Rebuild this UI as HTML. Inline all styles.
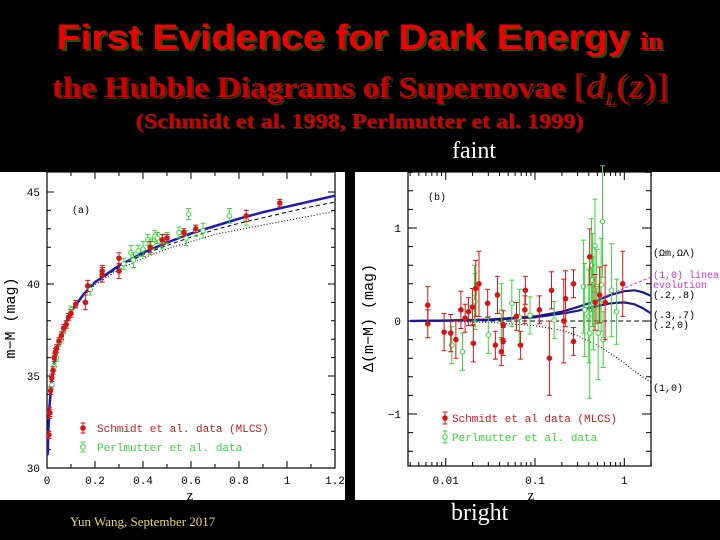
<!DOCTYPE html>
<html><head><meta charset="utf-8">
<style>
html,body{margin:0;padding:0;background:#000;}
body{width:720px;height:540px;position:relative;overflow:hidden;}
.t{position:absolute;white-space:nowrap;}
.c{position:absolute;left:0;width:720px;text-align:center;white-space:nowrap;}
.c span.w{display:inline-block;}
</style></head>
<body>
<div class="c" style="top:18px;"><span class="w" style="transform:scaleX(1.12);font:bold 35px 'Liberation Sans',sans-serif;color:#e00;text-shadow:2px 2px 0 #264a12;">First Evidence for Dark Energy <span style="font:bold 24px 'Liberation Serif',serif;">in</span></span></div>
<div class="c" style="top:68px;"><span class="w" style="transform:scaleX(1.1);font:bold 30px 'Liberation Serif',serif;color:#c00;text-shadow:2px 2px 0 #3a2a10;">the Hubble Diagrams of Supernovae <span style="font-weight:normal;font-size:34px;">[<i>d<sub style="font-size:19px">L</sub></i>(<i>z</i>)]</span></span></div>
<div class="c" style="top:109px;"><span class="w" style="transform:scaleX(1.15);font:bold 21px 'Liberation Serif',serif;color:#c00;text-shadow:1px 1px 0 #3a2a10;">(Schmidt et al. 1998, Perlmutter et al. 1999)</span></div>
<div class="t" style="left:452px;top:138px;font:24px 'Liberation Serif',serif;color:#fff;">faint</div>
<div class="t" style="left:451px;top:500px;font:24px 'Liberation Serif',serif;color:#fff;">bright</div>
<div class="t" style="left:70px;top:514px;font:13px 'Liberation Serif',serif;color:#e8d870;">Yun Wang, September 2017</div>

<svg id="s" width="720" height="540" style="position:absolute;left:0;top:0">
<rect x="0" y="172" width="345" height="328" fill="#fff"/>
<rect x="355" y="172" width="365" height="328" fill="#fff"/>
</svg>

<script>
// ---- Panel (a) data ----
const curveZ = [0.003,0.005,0.01,0.02,0.03,0.05,0.075,0.1,0.15,0.2,0.3,0.4,0.5,0.6,0.7,0.8,0.9,1.0,1.1,1.2];
const curveLambda = [30.7,31.8,33.3,34.8,35.7,36.9,37.8,38.5,39.4,40.1,41.0,41.7,42.25,42.75,43.15,43.55,43.9,44.2,44.5,44.8];
const curveOpen = [30.7,31.8,33.3,34.8,35.7,36.9,37.8,38.5,39.4,40.05,40.9,41.6,42.1,42.55,42.95,43.3,43.6,43.9,44.2,44.45];
const curveFlat = [30.7,31.8,33.3,34.8,35.7,36.9,37.8,38.45,39.3,39.95,40.8,41.4,41.9,42.3,42.7,42.95,43.2,43.45,43.7,43.95];
const redZa = [0.008,0.01,0.012,0.015,0.02,0.025,0.03,0.035,0.04,0.05,0.06,0.07,0.08,0.09,0.1,0.12,0.16,0.17,0.23,0.23,0.3,0.3,0.43,0.48,0.5,0.57,0.62,0.83,0.97];
const redMu = [31.8,33.0,33.0,34.2,34.9,35.3,36.0,36.3,36.5,36.9,37.2,37.6,37.8,38.2,38.4,38.9,39.0,39.9,40.5,40.7,40.7,41.4,42.0,42.4,42.5,42.8,43.0,43.7,44.4];
const redErrA = [0.2,0.3,0.2,0.2,0.2,0.2,0.2,0.2,0.2,0.2,0.2,0.2,0.2,0.2,0.2,0.2,0.4,0.3,0.4,0.3,0.4,0.3,0.3,0.3,0.2,0.2,0.2,0.3,0.2];
const greenZa = [0.02,0.03,0.04,0.05,0.06,0.07,0.08,0.1,0.18,0.32,0.35,0.36,0.38,0.4,0.42,0.43,0.44,0.45,0.46,0.48,0.5,0.55,0.58,0.59,0.62,0.65,0.76,0.83];
const greenMu = [34.5,35.5,36.0,36.8,37.0,37.5,37.8,38.6,39.7,41.1,41.7,41.3,41.8,41.9,42.4,42.0,42.2,42.6,42.5,42.3,42.5,42.8,42.5,43.8,42.9,42.9,43.7,43.5];
const greenErrA = [0.2,0.2,0.2,0.2,0.2,0.2,0.2,0.2,0.3,0.3,0.4,0.4,0.3,0.4,0.3,0.4,0.3,0.3,0.3,0.4,0.3,0.3,0.4,0.3,0.3,0.4,0.4,0.3];
const xTicksA = [0,0.2,0.4,0.6,0.8,1,1.2];
const yTicksA = [30,35,40,45];

// ---- Panel (b) data ----
const curveZb = [0.004,0.01,0.03,0.1,0.2,0.3,0.5,0.7,1,1.3,1.6,2];
const dm28 = [0,0.005,0.015,0.05,0.1,0.15,0.22,0.28,0.32,0.33,0.31,0.27];
const dm37 = [0,0.004,0.012,0.04,0.08,0.11,0.16,0.19,0.2,0.18,0.14,0.08];
const dm10 = [0,-0.005,-0.015,-0.05,-0.1,-0.16,-0.26,-0.35,-0.45,-0.54,-0.6,-0.66];
const dm20 = [0,0,0,0,0,0,0,0,0,0,0,0];
const redZb = [0.0063,0.0063,0.0096,0.0114,0.013,0.0148,0.0165,0.018,0.0199,0.0204,0.0217,0.0236,0.0295,0.036,0.038,0.042,0.044,0.044,0.062,0.069,0.077,0.078,0.112,0.145,0.153,0.21,0.22,0.27,0.27,0.41,0.47,0.53,0.61,0.96];
const redDm = [0.17,-0.03,-0.12,-0.13,-0.2,0.12,0.03,0.1,0.15,-0.24,0.35,0.4,0.19,-0.26,0.28,-0.33,-0.22,-0.04,0.05,-0.26,0.12,0.33,0.12,-0.4,0.33,0,0.24,0.4,-0.22,0.69,0.2,0.28,0.2,0.4];
const redErrB = [0.2,0.15,0.2,0.2,0.2,0.2,0.15,0.15,0.2,0.2,0.3,0.35,0.15,0.15,0.2,0.15,0.15,0.15,0.15,0.15,0.15,0.15,0.15,0.4,0.2,0.45,0.3,0.15,0.15,0.3,0.3,0.3,0.4,0.35];
const greenZb = [0.0117,0.0154,0.021,0.0213,0.03,0.042,0.055,0.067,0.088,0.164,0.35,0.36,0.40,0.41,0.43,0.44,0.45,0.47,0.49,0.51,0.55,0.57,0.58,0.72,0.82];
const greenDm = [-0.26,-0.33,0.3,0.21,-0.15,0.1,0.19,0.04,0.06,0.01,0.37,0.12,0.05,-0.13,0.6,0.44,0.19,0.81,0.37,-0.13,0.39,1.07,-0.2,0.33,0.1];
const greenErrB = [0.2,0.2,0.3,0.3,0.2,0.3,0.25,0.3,0.2,0.2,0.5,0.5,0.5,0.7,0.5,0.5,0.5,0.5,0.4,0.5,0.5,0.6,0.3,0.5,0.35];
const yTicksB = [-1,0,1];
const xTicksB = [0.01,0.1,1];

const svg = document.getElementById('s');
const NS = 'http://www.w3.org/2000/svg';
function el(tag, attrs, parent){
  const e = document.createElementNS(NS, tag);
  for (const k in attrs) e.setAttribute(k, attrs[k]);
  (parent||svg).appendChild(e);
  return e;
}
const xA = z => 47 + z*240;
const yA = m => 468 - (m-30)*18.4;
const xB = z => 445.7 + (Math.log10(z)+2)*89.3;
const yB = d => 321 - d*93;

function frame(x0,y0,x1,y1,name){
  const r = el('rect',{x:x0,y:y0,width:x1-x0,height:y1-y0,fill:'none',stroke:'#000','stroke-width':1.2});
  
  
}
function txt(x,y,s,opts,name){
  const t = el('text',Object.assign({x:x,y:y,'font-family':"'Liberation Mono',monospace",'font-size':11,fill:'#000'},opts||{}));
  t.textContent = s;
  
  
  return t;
}
function line(xs, ys, fx, fy, style, name){
  const d = xs.map((v,i)=>(i?'L':'M')+fx(v).toFixed(1)+','+fy(ys[i]).toFixed(1)).join('');
  const p = el('path',Object.assign({d:d,fill:'none'},style));
  
  
}
function marker(g,x,y,y1,y2,color,filled,name){
  el('path',{d:`M${x},${y1}L${x},${y2}M${x-2.5},${y1}L${x+2.5},${y1}M${x-2.5},${y2}L${x+2.5},${y2}`,stroke:color,'stroke-width':1,fill:'none'},g);
  const c = el('circle',{cx:x,cy:y,r:2.3,fill:filled?color:'#fff',stroke:color,'stroke-width':1},g);
  
  
}
function points(xs, ys, es, fx, fy, color, filled, name){
  const g = el('g',{});
  
  
  xs.forEach((v,i)=>{
    marker(g,fx(v),fy(ys[i]),fy(ys[i]+es[i]),fy(ys[i]-es[i]),color,filled,name+'-point');
  });
}

// ---- Panel (a) ----
const clipA = el('clipPath',{id:'ca'}); el('rect',{x:47,y:172,width:288,height:296},clipA);
frame(47,172,335,468,'panel-a-frame');
for (let z=0; z<=1.2001; z+=0.1){ const x=xA(z), L=(Math.round(z*10)%2===0)?7:4;
  el('path',{d:`M${x},468L${x},${468-L}M${x},172L${x},${172+L}`,stroke:'#000'}); }
for (let m=30; m<=45.5; m+=1){ const y=yA(m), L=(m%5===0)?7:4;
  el('path',{d:`M47,${y}L${47+L},${y}M335,${y}L${335-L},${y}`,stroke:'#000'}); }
xTicksA.forEach(v=>txt(xA(v),484,String(v),{'text-anchor':'middle'},'x-tick-label-a'));
yTicksA.forEach(v=>txt(40,yA(v)+4,String(v),{'text-anchor':'end'},'y-tick-label-a'));
txt(190,500,'z',{'text-anchor':'middle','font-size':15,'font-family':"'Liberation Serif',serif"},'x-axis-title-a');
txt(0,0,'m−M (mag)',{'text-anchor':'middle','font-size':15,transform:'translate(15,318) rotate(-90)'},'y-axis-title-a');
txt(72,213,'(a)',{'font-size':10},'panel-a-label');
const gA = el('g',{'clip-path':'url(#ca)'});
line(curveZ,curveFlat,xA,yA,{stroke:'#000','stroke-width':1,'stroke-dasharray':'1,2'},'curve-a-matter-only');
line(curveZ,curveOpen,xA,yA,{stroke:'#000','stroke-width':1,'stroke-dasharray':'4,3'},'curve-a-open');
line(curveZ,curveLambda,xA,yA,{stroke:'#1a1ab0','stroke-width':2.5},'curve-a-lambda');
points(greenZa,greenMu,greenErrA,xA,yA,'#3cd43c',false,'perlmutter-series-a');
points(redZa,redMu,redErrA,xA,yA,'#d01818',true,'schmidt-series-a');
const lgA = el('g',{});


marker(lgA,83,428,423,433,'#d01818',true,'legend-marker-schmidt-a');
marker(lgA,83,447,442,452,'#3cd43c',false,'legend-marker-perlmutter-a');
txt(97,432,'Schmidt et al. data (MLCS)',{fill:'#c02020','font-size':11},'legend-schmidt-a');
txt(97,451,'Perlmutter et al. data',{fill:'#3cd43c','font-size':11},'legend-perlmutter-a');

// ---- Panel (b) ----
frame(408,172,651,466,'panel-b-frame');
for (let e=-3; e<=0; e++){ for (let k=1;k<10;k++){ const z=k*Math.pow(10,e); if(z<0.0038||z>2) continue;
  const x=xB(z), L=(k===1)?8:4;
  el('path',{d:`M${x},466L${x},${466-L}M${x},172L${x},${172+L}`,stroke:'#000'}); } }
for (let i=-7;i<=8;i++){ const d=i*0.2, y=yB(d); if(y<172||y>466) continue; const L=(i%5===0)?9:5;
  el('path',{d:`M408,${y}L${408+L},${y}M651,${y}L${651-L},${y}`,stroke:'#000'}); }
xTicksB.forEach(v=>txt(xB(v),484,String(v),{'text-anchor':'middle'},'x-tick-label-b'));
yTicksB.forEach(v=>txt(401,yB(v)+4,v<0?'−'+Math.abs(v):String(v),{'text-anchor':'end'},'y-tick-label-b'));
txt(531,500,'z',{'text-anchor':'middle','font-size':15,'font-family':"'Liberation Serif',serif"},'x-axis-title-b');
txt(0,0,'Δ(m−M) (mag)',{'text-anchor':'middle','font-size':15,transform:'translate(373,318) rotate(-90)'},'y-axis-title-b');
txt(428,200,'(b)',{'font-size':10},'panel-b-label');
line(curveZb,dm20,xB,yB,{stroke:'#000','stroke-width':1,'stroke-dasharray':'5,3'},'curve-b-0.2-0');
line(curveZb,dm10,xB,yB,{stroke:'#000','stroke-width':1,'stroke-dasharray':'1,2'},'curve-b-1-0');
line(curveZb,dm28,xB,yB,{stroke:'#1a1a90','stroke-width':2.2},'curve-b-0.2-0.8');
line(curveZb,dm37,xB,yB,{stroke:'#1a1a90','stroke-width':2.2},'curve-b-0.3-0.7');
points(greenZb,greenDm,greenErrB,xB,yB,'#3cd43c',false,'perlmutter-series-b');
points(redZb,redDm,redErrB,xB,yB,'#d01818',true,'schmidt-series-b');
const lgB = el('g',{});


marker(lgB,445,418,412,424,'#d01818',true,'legend-marker-schmidt-b');
marker(lgB,445,437,431,443,'#3cd43c',false,'legend-marker-perlmutter-b');
const mg = el('path',{d:'M651,277L603,297',stroke:'#d030d0','stroke-dasharray':'3,2',fill:'none'});


txt(452,422,'Schmidt et al data (MLCS)',{fill:'#c02020','font-size':11},'legend-schmidt-b');
txt(452,441,'Perlmutter et al. data',{fill:'#3cd43c','font-size':11},'legend-perlmutter-b');
txt(653,256,'(Ωm,ΩΛ)',{'font-size':10},'model-legend-title');
txt(653,278,'(1,0) linear',{'font-size':10,fill:'#d030d0'},'label-linear-evolution');
txt(653,288,'evolution',{'font-size':10,fill:'#d030d0'},'label-evolution');
txt(653,298,'(.2,.8)',{'font-size':10},'label-0.2-0.8');
txt(653,318,'(.3,.7)',{'font-size':10},'label-0.3-0.7');
txt(653,328,'(.2,0)',{'font-size':10},'label-0.2-0');
txt(653,391,'(1,0)',{'font-size':10},'label-1-0');
</script>
</body></html>
